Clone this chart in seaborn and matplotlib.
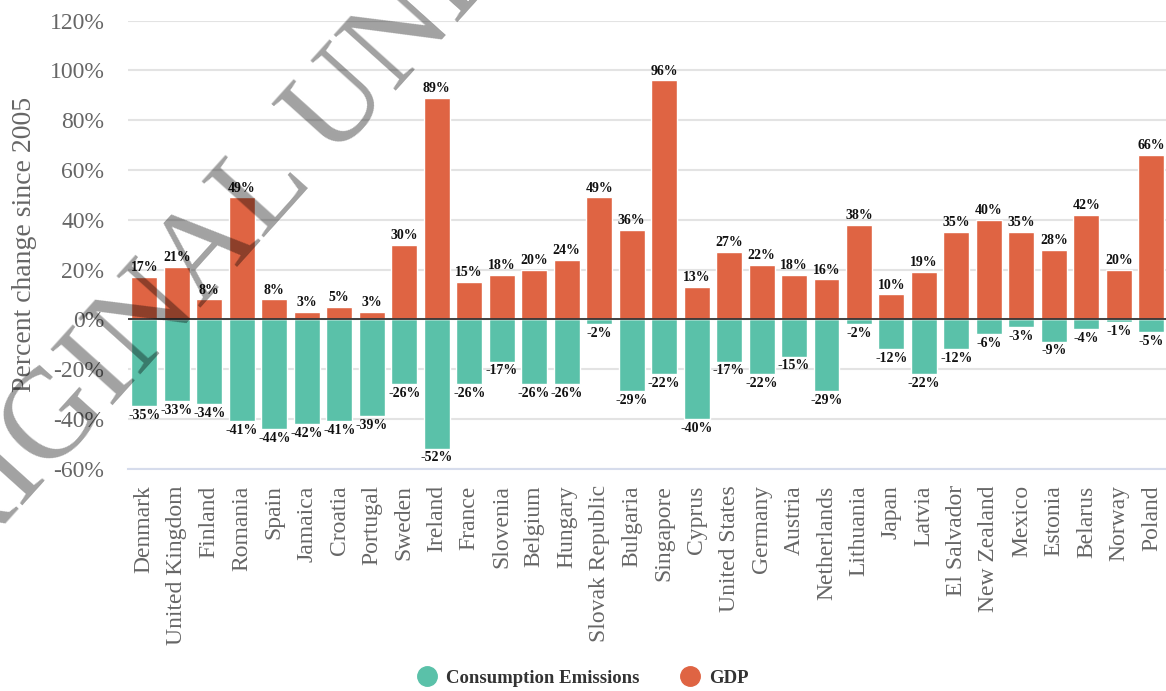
import matplotlib
matplotlib.use("Agg")
import matplotlib.pyplot as plt
from matplotlib.lines import Line2D
import pandas as pd
import seaborn as sns

countries = [
    "Denmark", "United Kingdom", "Finland", "Romania", "Spain", "Jamaica",
    "Croatia", "Portugal", "Sweden", "Ireland", "France", "Slovenia",
    "Belgium", "Hungary", "Slovak Republic", "Bulgaria", "Singapore",
    "Cyprus", "United States", "Germany", "Austria", "Netherlands",
    "Lithuania", "Japan", "Latvia", "El Salvador", "New Zealand", "Mexico",
    "Estonia", "Belarus", "Norway", "Poland",
]
emissions = [-35, -33, -34, -41, -44, -42, -41, -39, -26, -52, -26, -17,
             -26, -26, -2, -29, -22, -40, -17, -22, -15, -29, -2, -12,
             -22, -12, -6, -3, -9, -4, -1, -5]
gdp = [17, 21, 8, 49, 8, 3, 5, 3, 30, 89, 15, 18, 20, 24, 49, 36, 96, 13,
       27, 22, 18, 16, 38, 10, 19, 35, 40, 35, 28, 42, 20, 66]
series_names = ["Consumption Emissions", "GDP"]
series_colors = ["#5ac1a9", "#df6443"]
y_ticks = [-60, -40, -20, 0, 20, 40, 60, 80, 100, 120]
y_label = "Percent change since 2005"
watermark = "ORIGINAL UNEDITED MANUSCRIPT"

df = pd.DataFrame({
    "country": countries * 2,
    "value": emissions + gdp,
    "series": [series_names[0]] * len(countries) + [series_names[1]] * len(countries),
})

sns.set_theme(style="white")
plt.rcParams["font.family"] = ["Liberation Serif", "DejaVu Serif"]

W, H = 1166, 691
fig = plt.figure(figsize=(W / 100, H / 100), dpi=100)
ax_left, ax_right, ax_top, ax_bottom = 128, 1166, 20.7, 468.6
ax = fig.add_axes([ax_left / W, 1 - ax_bottom / H,
                   (ax_right - ax_left) / W, (ax_bottom - ax_top) / H])

sns.barplot(data=df, x="country", y="value", hue="series",
            order=countries, hue_order=series_names,
            palette=dict(zip(series_names, series_colors)), saturation=1,
            dodge=False, width=0.8, edgecolor="white", linewidth=1,
            errorbar=None, legend=False, ax=ax, zorder=2)

for cont in ax.containers:
    ax.bar_label(cont, fmt="{:.0f}%", padding=2, fontsize=10,
                 fontweight="bold", color="#111111")

ax.axhline(0, color="#333333", lw=1.3, zorder=3)

ax.set_ylim(-60, 120)
ax.set_xlim(-0.5, 31.45)
ax.set_yticks(y_ticks)
ax.set_yticklabels([f"{t}%" for t in y_ticks])
ax.yaxis.grid(True, color="#e3e3e3", lw=1.5)
ax.set_axisbelow(True)
for s in ["top", "right", "left"]:
    ax.spines[s].set_visible(False)
ax.spines["bottom"].set_color("#d6dcec")
ax.spines["bottom"].set_linewidth(1.5)

ax.tick_params(axis="y", length=0, pad=17, labelsize=17, labelcolor="#666666")
ax.tick_params(axis="x", length=0, pad=12, labelsize=17, labelcolor="#666666",
               labelrotation=90)
ax.set_xlabel("")
ax.set_ylabel(y_label, fontsize=20, color="#666666")
ax.yaxis.set_label_coords((37 - ax_left) / (ax_right - ax_left), 0.5)

handles = [Line2D([0], [0], marker="o", linestyle="", markersize=14,
                  markerfacecolor=c, markeredgecolor=c) for c in series_colors]
fig.legend(handles, series_names, loc="center", bbox_to_anchor=(0.5, 1 - 678 / H),
           ncol=2, frameon=False, prop=dict(weight="bold", size=13.5),
           labelcolor="#333333", handletextpad=0.5, columnspacing=2.2,
           handlelength=1.0)

fig.text(-99 / W, 1 - 640 / H, watermark, rotation=48, rotation_mode="anchor",
         ha="left", va="baseline", fontsize=92, color="black", alpha=0.37,
         family="Liberation Serif", zorder=10)

fig.savefig("out.png", dpi=100)
